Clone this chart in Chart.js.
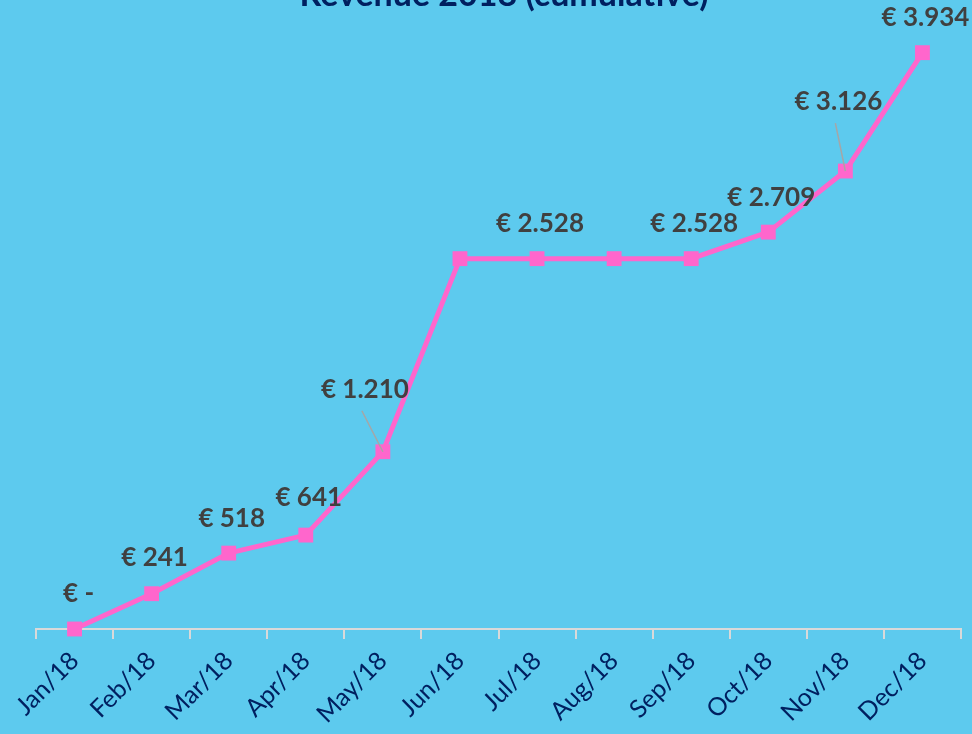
<!DOCTYPE html>
<html>
<head>
<meta charset="utf-8">
<script src="https://cdn.jsdelivr.net/npm/chart.js@4"></script>
<style>
  html, body { margin: 0; padding: 0; background: #5dcaee; }
  #wrap { width: 972px; height: 734px; position: relative; overflow: hidden; }
</style>
</head>
<body>
<div id="wrap"><canvas id="revenueChart" width="972" height="734"></canvas></div>
<script>
const months = ["Jan/18", "Feb/18", "Mar/18", "Apr/18", "May/18", "Jun/18",
  "Jul/18", "Aug/18", "Sep/18", "Oct/18", "Nov/18", "Dec/18"];
const revenue = [0, 241, 518, 641, 1210, 2528, 2528, 2528, 2528, 2709, 3126, 3934];
// which points carry a value label (Jun and Aug are left blank in the original)
const showLabel = [true, true, true, true, true, false, true, false, true, true, true, true];

// label placement relative to the point: [dx, dy, leader line]
const labelOffsets = [
  [4, -35, false], [3, -36, false], [3, -35, false], [3, -37, false],
  [-18, -62, true], [0, 0, false], [3, -35, false], [0, 0, false],
  [3, -35, false], [3, -35, false], [-7, -69, true], [3, -35, false]
];

function euro(v) {
  if (v === 0) return "€ -";
  return "€ " + v.toString().replace(/\B(?=(\d{3})+(?!\d))/g, ".");
}

const titlePlugin = {
  id: "cutTitle",
  afterDraw(chart) {
    const ctx = chart.ctx;
    ctx.save();
    ctx.font = "bold 34px Lato";
    ctx.fillStyle = "#002060";
    ctx.textAlign = "center";
    ctx.textBaseline = "alphabetic";
    ctx.fillText("Revenue 2018 (cumulative)", 504, 6);
    ctx.restore();
  }
};

const valueLabels = {
  id: "valueLabels",
  afterDatasetsDraw(chart) {
    const ctx = chart.ctx;
    const meta = chart.getDatasetMeta(0);
    ctx.save();
    ctx.font = "bold 26px Lato";
    ctx.fillStyle = "#404040";
    ctx.textAlign = "center";
    ctx.textBaseline = "middle";
    meta.data.forEach((pt, i) => {
      if (!showLabel[i]) return;
      const [dx, dy, leader] = labelOffsets[i];
      const lx = pt.x + dx, ly = pt.y + dy;
      if (leader) {
        ctx.strokeStyle = "#a6a6a6";
        ctx.lineWidth = 1.5;
        ctx.beginPath();
        ctx.moveTo(lx - 3, ly + 21);
        ctx.lineTo(pt.x, pt.y);
        ctx.stroke();
      }
      ctx.fillText(euro(revenue[i]), lx, ly);
    });
    ctx.restore();
  }
};

new Chart(document.getElementById("revenueChart"), {
  type: "line",
  data: {
    labels: months,
    datasets: [{
      label: "Revenue",
      data: revenue,
      borderColor: "#ff66cc",
      backgroundColor: "#ff66cc",
      borderWidth: 5,
      pointStyle: "rect",
      pointRadius: 10.5,
      pointBorderWidth: 0,
      tension: 0,
      clip: false
    }]
  },
  options: {
    responsive: false,
    animation: false,
    layout: { padding: { top: 43, left: 36, right: 11, bottom: 0 } },
    plugins: {
      legend: { display: false },
      tooltip: { enabled: false }
    },
    scales: {
      x: {
        offset: true,
        afterFit(scale) { scale.height = 105; },
        grid: {
          offset: true,
          drawOnChartArea: false,
          drawTicks: true,
          tickLength: 10,
          color: "#d9d9d9",
          lineWidth: 2
        },
        border: { color: "#d9d9d9", width: 2 },
        ticks: {
          autoSkip: false,
          minRotation: 45,
          maxRotation: 45,
          padding: 7,
          color: "#002060",
          font: { family: "Lato", size: 25 }
        }
      },
      y: {
        display: false,
        min: 0,
        max: 4000
      }
    }
  },
  plugins: [titlePlugin, valueLabels]
});
</script>
</body>
</html>
